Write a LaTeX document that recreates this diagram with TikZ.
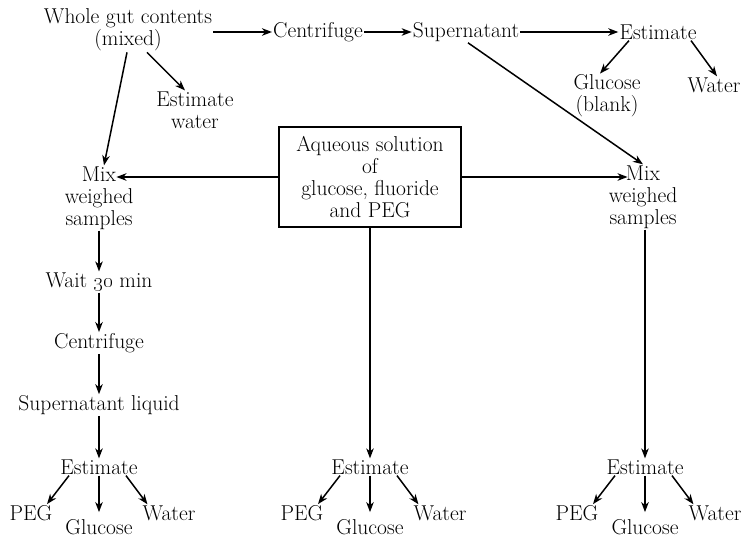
\documentclass[tikz,border=0pt]{standalone}
\usetikzlibrary{arrows.meta}

\begin{document}
\begin{tikzpicture}[x=1pt,y=-1pt,>={Stealth[length=10pt,width=7.5pt,inset=3pt]},
  every node/.style={font=\fontsize{21.5}{22}\selectfont,align=center,inner sep=1pt},
  arr/.style={->,line width=1.5pt},
  boxed/.style={draw,line width=1.5pt,minimum width=182pt,minimum height=100pt}]
  \useasboundingbox (0,0) rectangle (746,538);

  % top row
  \node (whole) at (128,30) {Whole gut contents\\(mixed)};
  \node (cent) at (318,32) {Centrifuge};
  \node (sup) at (466,32) {Supernatant};
  \node (estT) at (658,32) {Estimate};
  \node (glucB) at (607,96) {Glucose\\(blank)};
  \node (waterT) at (714,85) {Water};
  \node (estW) at (195,110) {Estimate\\water};

  \draw[arr] (whole.east |- cent.west) -- (cent.west);
  \draw[arr] (cent.east) -- (sup.west);
  \draw[arr] (sup.east) -- (estT.west);
  \draw[arr] ([xshift=-29pt]estT.south) -- ([xshift=-7pt]glucB.north);
  \draw[arr] ([xshift=33pt]estT.south) -- ([xshift=3pt]waterT.north);
  \draw[arr] ([xshift=19pt]whole.south) -- ([xshift=-10pt]estW.north);

  % solution box and the two mixes
  \node[boxed] (aq) at (370,177) {Aqueous solution\\of\\glucose, fluoride\\and PEG};
  \node (mixL) at (99,198) {Mix\\weighed\\samples};
  \node (mixR) at (643,197) {Mix\\weighed\\samples};

  \draw[arr] ([xshift=-1pt]whole.south) -- ([xshift=5pt]mixL.north);
  \draw[arr] (aq.west) -- ([xshift=-18pt]mixL.east |- aq.west);
  \draw[arr] (aq.east) -- ([xshift=20pt]mixR.west |- aq.east);
  \draw[arr] ([xshift=2pt]sup.south) -- (mixR.north);

  % left column
  \node (wait) at (99,282) {Wait \oldstylenums{30} min};
  \node (centL) at (99,343) {Centrifuge};
  \node (supL) at (99,405) {Supernatant liquid};

  % estimates at the foot
  \foreach \n/\x in {L/99,M/370,R/645}{
    \node (est\n) at (\x,467) {Estimate};
    \node (peg\n) at (\x-68,513) {PEG};
    \node (water\n) at (\x+70,513) {Water};
    \node (gluc\n) at (\x,527) {Glucose};
    \draw[arr] ([xshift=-30pt]est\n.south) -- ([xshift=16pt]peg\n.north);
    \draw[arr] (est\n.south) -- ([yshift=6pt]gluc\n.north);
    \draw[arr] ([xshift=27pt]est\n.south) -- ([xshift=6pt]water\n.north west);
  }

  \draw[arr] (mixL.south) -- (wait.north);
  \draw[arr] (wait.south) -- (centL.north);
  \draw[arr] (centL.south) -- (supL.north);
  \draw[arr] (supL.south) -- (estL.north);
  \draw[arr] (aq.south) -- (estM.north);
  \draw[arr] (mixR.south -| estR.north) -- (estR.north);
\end{tikzpicture}
\end{document}
